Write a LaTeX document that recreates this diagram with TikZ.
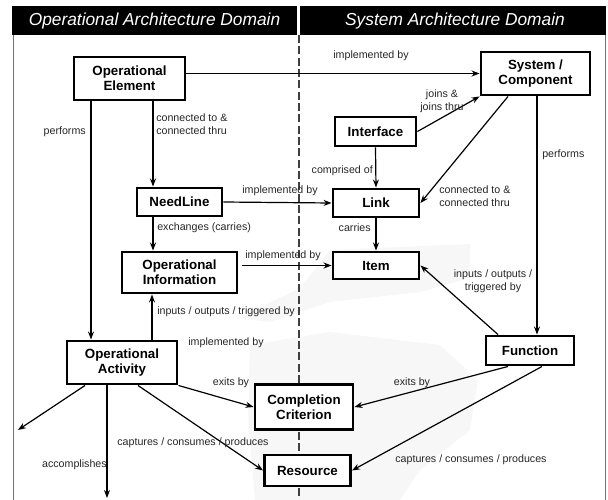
\documentclass[tikz,border=0pt]{standalone}
\usepackage{fontspec}
\setmainfont{Liberation Sans}
\usetikzlibrary{arrows.meta}
\tikzset{
  px/.style={x=0.75pt,y=-0.75pt},
  box/.style n args={2}{draw=black,line width=2.2pt,fill=white,inner sep=0pt,
    minimum width=#1*0.75pt,minimum height=#2*0.75pt,align=center,
    font=\fontsize{10}{11}\selectfont\bfseries},
  arr/.style={draw=black,line width=0.9pt,-{Stealth[length=6pt,width=4.5pt]}},
  lbl/.style={inner sep=0pt,font=\fontsize{8}{9.6}\selectfont,text=black!85},
  hdr/.style={fill=black,draw=none},
  hdrtext/.style={text=white,inner sep=0pt,font=\fontsize{13}{15}\selectfont\itshape},
  halftone/.style={fill=black!3,draw=none}
}
\begin{document}
\begin{tikzpicture}[px]
\useasboundingbox (0,0) rectangle (608,500);
% faint halftone patches
\fill[halftone] (238,318) -- (300,288) -- (330,250) -- (470,244) -- (470,278)
  -- (420,292) -- (330,302) -- (270,322) -- cycle;
\fill[halftone] (250,345) -- (330,332) -- (440,345) -- (478,380) -- (470,430)
  -- (420,470) -- (400,500) -- (255,500) -- (248,420) -- cycle;
% headers
\fill[hdr] (12,6) rectangle (297,35);
\fill[hdr] (300,6) rectangle (606,35);
\node[hdrtext] (h1) at (154.5,21) {Operational Architecture Domain};
\node[hdrtext] (h2) at (455,21) {System Architecture Domain};
% frame
\draw[black!55,line width=0.6pt] (13,35) -- (13,500);
\draw[black!55,line width=0.6pt] (605,35) -- (605,500);
\draw[black!75,line width=0.8pt,dash pattern=on 6pt off 2.5pt] (299,35) -- (299,500);
% nodes
\node[box={111}{43}] (oe) at (129.5,78.5) {Operational\\Element};
\node[box={109}{43}] (sc) at (535.5,73.5) {System /\\Component};
\node[box={81}{29}] (intf) at (375.5,131.5) {Interface};
\node[box={85}{28}] (nl) at (179.5,202) {NeedLine};
\node[box={86}{28}] (link) at (376,203) {Link};
\node[box={115}{41}] (oi) at (179.5,272.5) {Operational\\Information};
\node[box={86}{27}] (item) at (376,265.5) {Item};
\node[box={110}{43}] (oa) at (122,362.5) {Operational\\Activity};
\node[box={88}{29}] (fn) at (530,350.5) {Function};
\node[box={98}{45}] (cc) at (304,407) {Completion\\Criterion};
\node[box={86}{31}] (res) at (307.5,470.5) {Resource};
\coordinate (fl) at (18,430);
\coordinate (fd) at (107,498);
% connectors
\draw[arr] (oe.east |- sc.west) -- (sc.west);
\draw[arr] (oe.south -| 153,0) -- (nl.north -| 153,0);
\draw[arr] (oe.south -| 91,0) -- (oa.north -| 91,0);
\draw[arr] (intf.east) -- (sc.south west);
\draw[arr] (sc.south -| 508,0) -- (link.east);
\draw[arr] (sc.south -| 537,0) -- (fn.north -| 537,0);
\draw[arr] (intf.south) -- (link.north);
\draw[arr] (nl.east) -- (link.west);
\draw[arr] (nl.south -| 153,0) -- (oi.north -| 153,0);
\draw[arr] (link.south) -- (item.north);
\draw[arr] ([xshift=3pt]oi.east |- item.west) -- (item.west);
\draw[arr] (oa.north -| 152,0) -- (oi.south -| 152,0);
\draw[arr] (fn.north -| 498,0) -- (item.east);
\draw[arr] (oa.south east) -- (cc.west);
\draw[arr] (fn.south -| 508,0) -- (cc.east);
\draw[arr] (oa.south -| 138,0) -- (res.west);
\draw[arr] (fn.south -| 542,0) -- (res.east);
\draw[arr] (oa.south -| 85,0) -- (fl);
\draw[arr] (oa.south -| 107,0) -- (fd);
% labels
\node[lbl] (l1) at (371,56) {implemented by};
\node[lbl,anchor=west,align=left] (l2) at (156,124) {connected to \&\\connected thru};
\node[lbl,anchor=east] (l3) at (86,132) {performs};
\node[lbl,align=center] (l4) at (442,101) {joins \&\\joins thru};
\node[lbl,anchor=east] (l5) at (373,171) {comprised of};
\node[lbl,anchor=west,align=left] (l6) at (439,196) {connected to \&\\connected thru};
\node[lbl,anchor=west] (l7) at (542,155) {performs};
\node[lbl] (l8) at (280,191) {implemented by};
\node[lbl,anchor=west] (l9) at (157,228) {exchanges (carries)};
\node[lbl,anchor=east] (l10) at (371,228) {carries};
\node[lbl] (l11) at (283,256) {implemented by};
\node[lbl,anchor=west] (l12) at (157,312) {inputs / outputs / triggered by};
\node[lbl] (l13) at (226,343) {implemented by};
\node[lbl,align=center] (l14) at (493,281) {inputs / outputs /\\triggered by};
\node[lbl] (l15) at (231,383) {exits by};
\node[lbl] (l16) at (412,383) {exits by};
\node[lbl] (l17) at (193,443) {captures / consumes / produces};
\node[lbl] (l18) at (471,460) {captures / consumes / produces};
\node[lbl,anchor=east] (l19) at (107,465) {accomplishes};
\end{tikzpicture}
\end{document}
